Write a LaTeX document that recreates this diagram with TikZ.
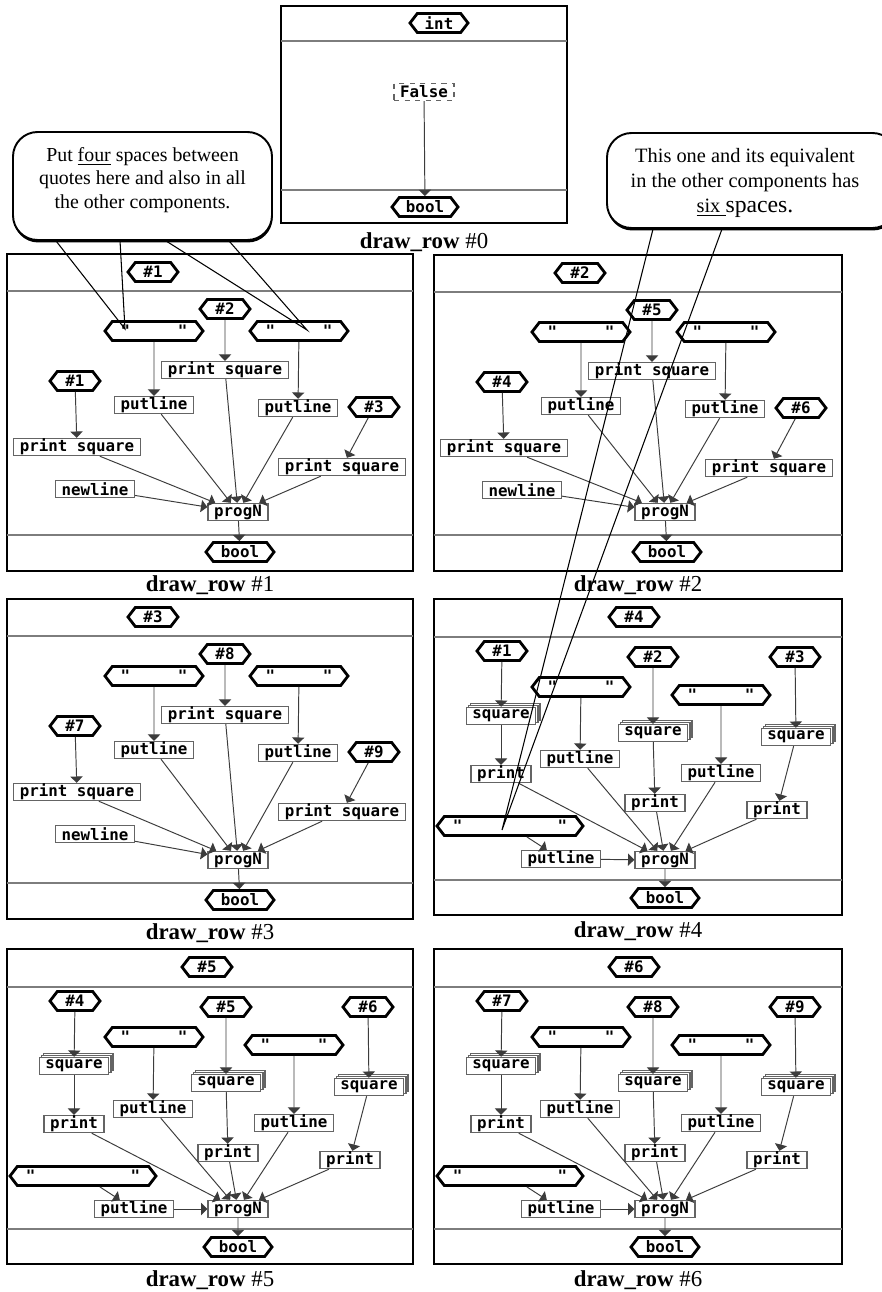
\documentclass[tikz,border=0pt]{standalone}
\usepackage{fontspec}
\setmainfont{Liberation Serif}
\setmonofont{DejaVu Sans Mono}
\usetikzlibrary{arrows.meta,shapes.symbols,shadows,calc}
\definecolor{framegray}{RGB}{125,125,125}
\definecolor{boxgray}{RGB}{100,100,100}
\definecolor{edgegray}{RGB}{60,60,60}
\def\px{0.02cm}
\tikzset{
  frame/.style={draw=black, line width=0.9pt},
  divider/.style={draw=framegray, line width=1pt},
  hexnode/.style={shape=signal, signal to=west and east, signal pointer angle=105,
    draw=black, line width=1.6pt, fill=white, minimum width=#1*\px, minimum height=19*\px,
    inner xsep=1pt, inner ysep=0pt, font=\ttfamily\bfseries\fontsize{9}{9}\selectfont},
  hexnode/.default=50,
  fnbox/.style={draw=boxgray, line width=0.8pt, fill=white, minimum height=17*\px,
    inner xsep=3.5pt, inner ysep=0pt, font=\ttfamily\bfseries\fontsize{9}{9}\selectfont},
  stackbox/.style={fnbox, double copy shadow={shadow xshift=1.2pt, shadow yshift=1.2pt,
    draw=boxgray, fill=white, line width=0.8pt}},
  flow/.style={draw=edgegray, line width=0.55pt, -{Triangle[width=7pt,length=3.6pt]}},
  caption/.style={font=\fontsize{13}{15}\selectfont},
  callout/.style={draw=black, line width=1.1pt, fill=white, rounded corners=14pt,
    drop shadow={shadow xshift=0.3pt, shadow yshift=-1.4pt, fill=black, opacity=1}},
  callnote/.style={align=center, inner sep=0pt},
  pointer/.style={draw=black, line width=0.6pt},
}
\begin{document}
\begin{tikzpicture}[x=\px, y=-\px]
  \useasboundingbox (0,0) rectangle (882,1292);
  \clip (0,0) rectangle (882,1292);
  \fill[white] (0,0) rectangle (882,1292);

  % draw_row #0
  \draw[frame] (281,6) rectangle (567,223);
  \draw[divider] (281,41) -- (567,41);
  \draw[divider] (281,190) -- (567,190);
  \node[hexnode=58] (p0-hd) at (439,23) {int};
  \node[fnbox, dashed] (p0-false) at (424,92) {False};
  \node[hexnode=66] (p0-bool) at (425,207) {bool};
  \draw[flow] (p0-false) -- (p0-bool);
  \node[caption] (cap0) at (424,242) {\textbf{draw\_row} \#0};

  % rows with print square
  \foreach \ox/\oy/\w/\h/\nm/\hd/\nt/\nl/\nr in {
    7/254/406/317/p1/1/2/1/3,
    434/255/408/316/p2/2/5/4/6,
    7/599/406/320/p3/3/8/7/9%
  }{
    \begin{scope}[shift={(\ox,\oy)}]
      \draw[frame] (0,0) rectangle (\w,\h);
      \draw[divider] (0,37) -- (\w,37);
      \draw[divider] (0,\h-36) -- (\w,\h-36);
      \node[hexnode] (\nm-hd) at (146,18) {\#\hd};
      \node[hexnode] (\nm-nT) at (218,55) {\#\nt};
      \node[hexnode=98] (\nm-sL) at (147,77) {"\hphantom{00000}"};
      \node[hexnode=98] (\nm-sR) at (292,77) {"\hphantom{00000}"};
      \node[fnbox] (\nm-psT) at (218,116) {print square};
      \node[hexnode] (\nm-nL) at (68,127) {\#\nl};
      \node[fnbox] (\nm-putL) at (147,151) {putline};
      \node[fnbox] (\nm-putR) at (291,154) {putline};
      \node[hexnode] (\nm-nR) at (367,153) {\#\nr};
      \node[fnbox] (\nm-psL) at (70,193) {print square};
      \node[fnbox] (\nm-psR) at (335,213) {print square};
      \node[fnbox] (\nm-nl) at (88,235) {newline};
      \node[fnbox] (\nm-pg) at (231,\h-59) {progN};
      \node[hexnode=68] (\nm-bl) at (233,\h-19) {bool};
      \draw[flow] (\nm-nT) -- (\nm-psT);
      \draw[flow] (\nm-sL) -- (\nm-putL);
      \draw[flow] (\nm-sR) -- (\nm-putR);
      \draw[flow] (\nm-nL) -- (\nm-psL);
      \draw[flow] (\nm-nR) -- (\nm-psR);
      \foreach \src in {psT,putL,putR,psL,psR,nl}
        \draw[flow] (\nm-\src) -- (\nm-pg);
      \draw[flow] (\nm-pg) -- (\nm-bl);
      \node[caption] (\nm-cap) at (\w/2,\h+14) {\textbf{draw\_row} \#\hd};
    \end{scope}
  }

  % rows with square / print
  \foreach \ox/\oy/\w/\h/\nm/\hd/\na/\nb/\nc in {
    434/599/408/316/p4/4/1/2/3,
    7/949/406/315/p5/5/4/5/6,
    434/949/408/315/p6/6/7/8/9%
  }{
    \begin{scope}[shift={(\ox,\oy)}]
      \draw[frame] (0,0) rectangle (\w,\h);
      \draw[divider] (0,38) -- (\w,38);
      \draw[divider] (0,\h-35) -- (\w,\h-35);
      \node[hexnode] (\nm-hd) at (200,18) {\#\hd};
      \node[hexnode] (\nm-n1) at (68,52) {\#\na};
      \node[hexnode] (\nm-n2) at (219,58) {\#\nb};
      \node[hexnode] (\nm-n3) at (361,58) {\#\nc};
      \node[hexnode=98] (\nm-sL) at (147,88) {"\hphantom{00000}"};
      \node[hexnode=98] (\nm-sR) at (287,96) {"\hphantom{00000}"};
      \node[stackbox] (\nm-q1) at (67,117) {square};
      \node[stackbox] (\nm-q2) at (219,134) {square};
      \node[stackbox] (\nm-q3) at (362,138) {square};
      \node[fnbox] (\nm-putL) at (146,160) {putline};
      \node[fnbox] (\nm-p1) at (67,175) {print};
      \node[fnbox] (\nm-putR) at (287,174) {putline};
      \node[fnbox] (\nm-p2) at (221,204) {print};
      \node[fnbox] (\nm-p3) at (343,211) {print};
      \node[hexnode=146] (\nm-big) at (76,227) {"\hphantom{0000000000}"};
      \node[fnbox] (\nm-putB) at (127,260) {putline};
      \node[fnbox] (\nm-pg) at (231,\h-55) {progN};
      \node[hexnode=68] (\nm-bl) at (231,\h-17) {bool};
      \draw[flow] (\nm-n1) -- (\nm-q1);
      \draw[flow] (\nm-q1) -- (\nm-p1);
      \draw[flow] (\nm-n2) -- (\nm-q2);
      \draw[flow] (\nm-q2) -- (\nm-p2);
      \draw[flow] (\nm-n3) -- (\nm-q3);
      \draw[flow] (\nm-q3) -- (\nm-p3);
      \draw[flow] (\nm-sL) -- (\nm-putL);
      \draw[flow] (\nm-sR) -- (\nm-putR);
      \draw[flow] (\nm-big) -- (\nm-putB);
      \foreach \src in {putB,p1,putL,p2,putR,p3}
        \draw[flow] (\nm-\src) -- (\nm-pg);
      \draw[flow] (\nm-pg) -- (\nm-bl);
      \node[caption] (\nm-cap) at (\w/2,\h+16) {\textbf{draw\_row} \#\hd};
    \end{scope}
  }

  % callouts
  \node[callout, minimum width=259*\px, minimum height=108*\px] (callA) at (142.5,186) {};
  \node[callnote, font=\fontsize{11.3}{13.4}\selectfont] (callA-text) at (142.5,180)
    {Put \underline{four} spaces between\\quotes here and also in all\\the other components.};
  \node[callout, minimum width=290*\px, minimum height=95*\px] (callB) at (752,180.5) {};
  \node[callnote, font=\fontsize{11.6}{14.2}\selectfont] (callB-text) at (745,183)
    {This one and its equivalent\\in the other components has\\\underline{six\ }{\fontsize{13.5}{14.2}\selectfont spaces.}};

  \coordinate (tipA) at ($(p1-sL)+(-29,-2)$);
  \coordinate (tipB) at ($(p1-sR)+(8,-1)$);
  \coordinate (tipC) at ($(p4-big)+(-8,4)$);
  \draw[pointer] ($(callA.south west)+(44,0)$) -- (tipA) -- ($(callA.south west)+(108,0)$);
  \draw[pointer] ($(callA.south west)+(154,0)$) -- (tipB) -- ($(callA.south west)+(217,0)$);
  \draw[pointer] ($(callB.south west)+(47,0)$) -- (tipC) -- ($(callB.south west)+(116,0)$);
\end{tikzpicture}
\end{document}
